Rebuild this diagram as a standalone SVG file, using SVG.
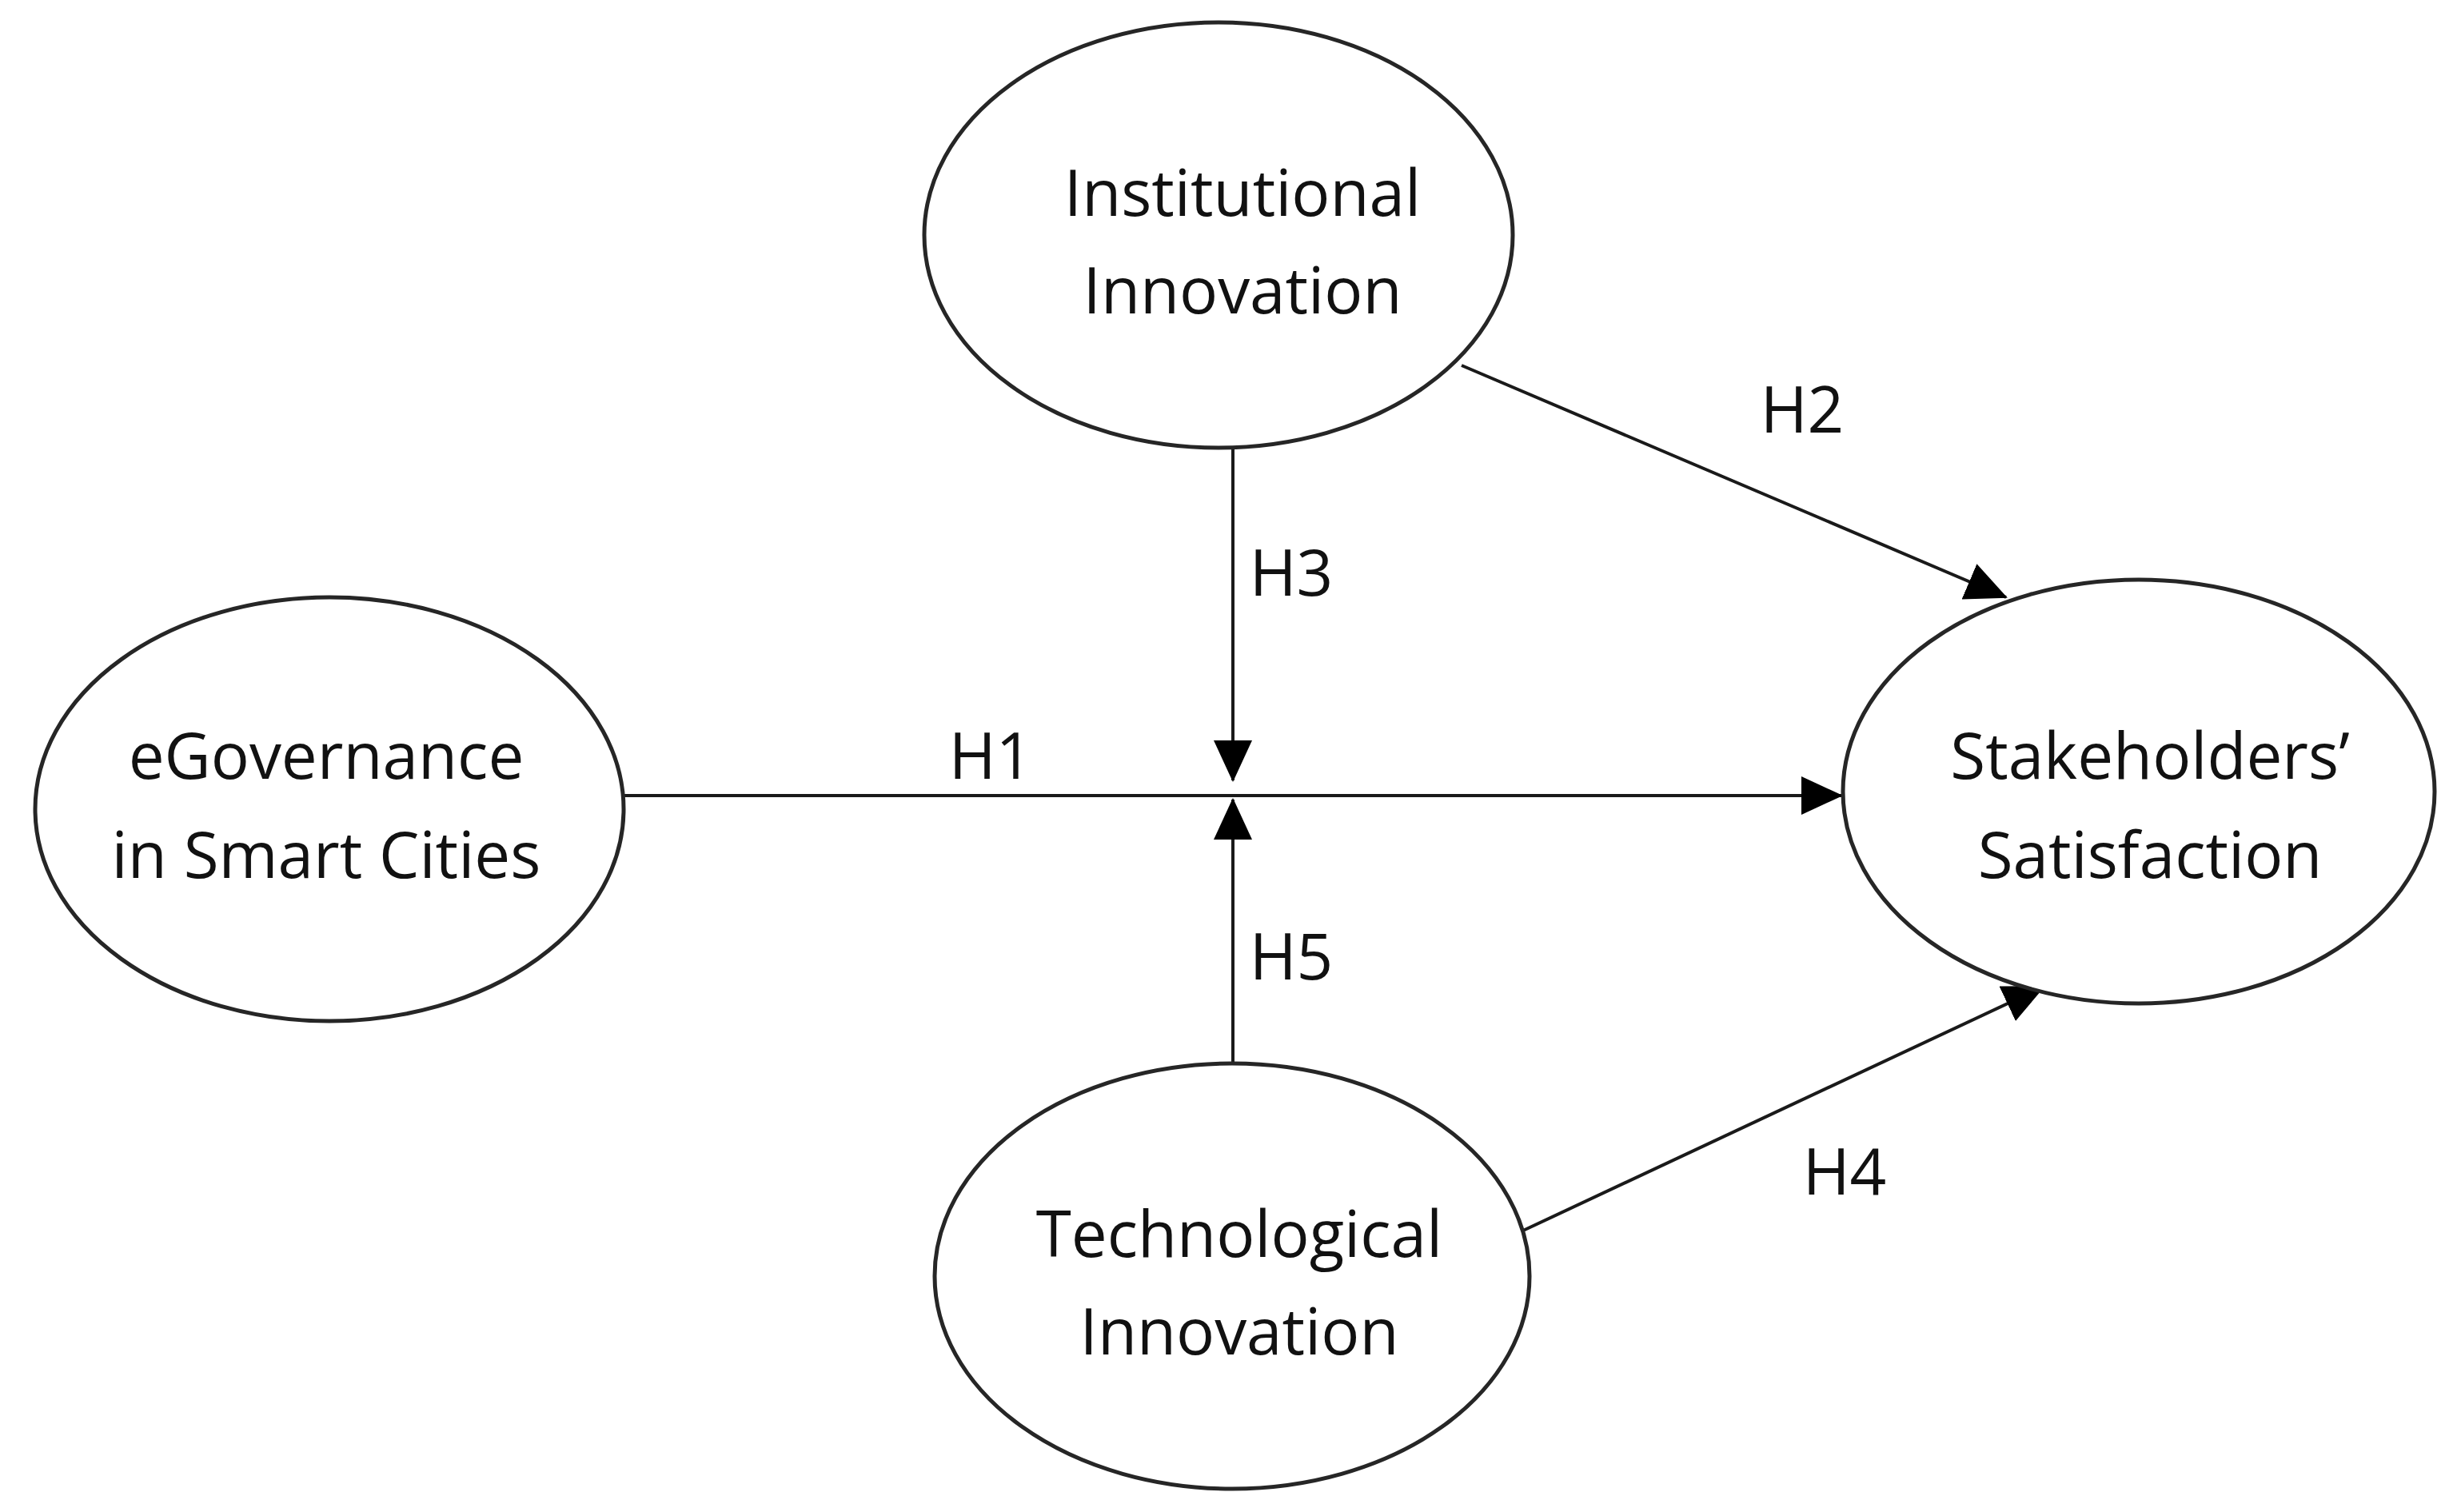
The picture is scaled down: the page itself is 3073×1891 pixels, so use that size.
<svg xmlns="http://www.w3.org/2000/svg" width="3073" height="1891" viewBox="0 0 3073 1891">
<style>
.n{fill:#fff;stroke:#262626;stroke-width:5}
.t{font-family:"Open Sans","Noto Sans",sans-serif;font-size:80px;fill:#111;text-anchor:middle}
.c{stroke:#1a1a1a;stroke-width:4;fill:none;marker-end:url(#a)}
</style>
<defs><marker id="a" markerUnits="userSpaceOnUse" markerWidth="52" markerHeight="48" refX="50" refY="24" orient="auto"><path d="M0,0 L52,24 L0,48 Z" fill="#000"/></marker></defs>
<rect width="3073" height="1891" fill="#fff"/>
<g id="connectors">
<line class="c" x1="778" y1="995" x2="2303" y2="995"/>
<line class="c" x1="1542" y1="562" x2="1542" y2="976"/>
<line class="c" x1="1542" y1="1333" x2="1542" y2="1000"/>
<line class="c" x1="1828" y1="457" x2="2509" y2="747"/>
<line class="c" x1="1905" y1="1539" x2="2556" y2="1234"/>
<text class="t" x="1239" y="974">H1</text>
<text class="t" x="2254" y="541">H2</text>
<text class="t" x="1615" y="745">H3</text>
<text class="t" x="2307" y="1494">H4</text>
<text class="t" x="1615" y="1225">H5</text>
</g>
<g id="institutional"><ellipse class="n" cx="1524" cy="294" rx="368" ry="266"/><text class="t" x="1554" y="270">Institutional</text><text class="t" x="1554" y="392">Innovation</text></g>
<g id="egovernance"><ellipse class="n" cx="412" cy="1012" rx="368" ry="265"/><text class="t" x="408" y="974">eGovernance</text><text class="t" x="408" y="1098">in Smart Cities</text></g>
<g id="stakeholders"><ellipse class="n" cx="2675" cy="990" rx="370" ry="265"/><text class="t" x="2689" y="974">Stakeholders’</text><text class="t" x="2689" y="1098">Satisfaction</text></g>
<g id="technological"><ellipse class="n" cx="1541" cy="1596" rx="372" ry="266"/><text class="t" x="1550" y="1572">Technological</text><text class="t" x="1550" y="1694">Innovation</text></g>
</svg>
